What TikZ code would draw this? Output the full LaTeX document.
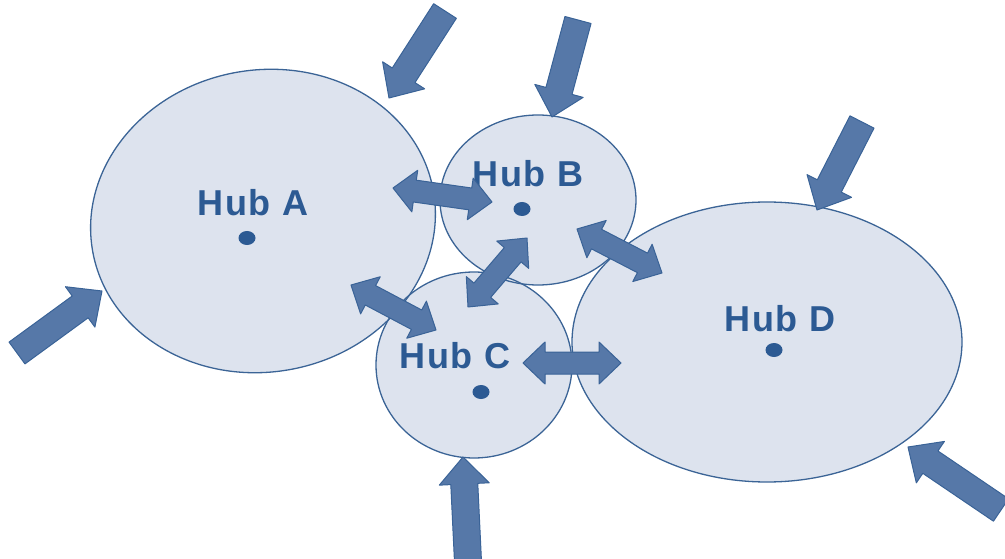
\documentclass[tikz,border=0pt]{standalone}
\usepackage{fontspec}
\setmainfont{Liberation Sans}
\newfontfamily\hubfont[LetterSpace=5]{Liberation Sans}
\usetikzlibrary{calc}
\definecolor{hubfill}{RGB}{221,227,238}
\definecolor{hubline}{RGB}{59,100,150}
\definecolor{arrfill}{RGB}{86,120,168}
\definecolor{arrline}{RGB}{58,99,151}
\definecolor{hubtext}{RGB}{44,90,147}
\tikzset{
  hubshape/.style={fill=hubfill},
  hubrim/.style={draw=hubline, line width=1.3pt},
  arr/.style={fill=arrfill, draw=arrline, line width=1pt, line join=round},
  hublabel/.style={text=hubtext, font=\hubfont\fontsize{36}{40}\selectfont\bfseries, anchor=base, inner sep=0pt}
}
\newcommand\blockarr[2]{%
  \coordinate (ba-b) at ($(#2)!27pt!(#1)$);
  \draw[arr] ($(#1)!13.5pt!90:(#2)$) -- ($(ba-b)!13.5pt!90:(#2)$) -- ($(ba-b)!25pt!90:(#2)$) -- (#2)
    -- ($(ba-b)!25pt!-90:(#2)$) -- ($(ba-b)!13.5pt!-90:(#2)$) -- ($(#1)!13.5pt!-90:(#2)$) -- cycle;}
\newcommand\dblarr[2]{%
  \coordinate (da-a) at ($(#1)!22pt!(#2)$);
  \coordinate (da-b) at ($(#2)!22pt!(#1)$);
  \draw[arr] (#1) -- ($(da-a)!21pt!90:(#2)$) -- ($(da-a)!11pt!90:(#2)$) -- ($(da-b)!11pt!-90:(#1)$)
    -- ($(da-b)!21pt!-90:(#1)$) -- (#2) -- ($(da-b)!21pt!90:(#1)$) -- ($(da-b)!11pt!90:(#1)$)
    -- ($(da-a)!11pt!-90:(#2)$) -- ($(da-a)!21pt!-90:(#2)$) -- cycle;}
\begin{document}
\begin{tikzpicture}[x=1pt,y=-1pt]
\useasboundingbox (0,0) rectangle (1005,559);
% hub centres
\coordinate (hubA) at (263,221);
\coordinate (hubB) at (538,200);
\coordinate (hubC) at (474,365);
\coordinate (hubD) at (767,342);
% fills
\path[hubshape] (hubA) ellipse [x radius=173pt, y radius=151pt, rotate=10];
\path[hubshape] (hubB) ellipse [x radius=98pt, y radius=85pt];
\path[hubshape] (hubC) ellipse [x radius=98pt, y radius=93pt];
\path[hubshape] (hubD) ellipse [x radius=195pt, y radius=140pt];
% outlines
\path[hubrim] (hubA) ellipse [x radius=173pt, y radius=151pt, rotate=10];
\path[hubrim] (hubB) ellipse [x radius=98pt, y radius=85pt];
\path[hubrim] (hubC) ellipse [x radius=98pt, y radius=93pt];
\path[hubrim] (hubD) ellipse [x radius=195pt, y radius=140pt];
% labels
\node[hublabel] (labA) at (253,216) {Hub A};
\node[hublabel] (labB) at (528,187) {Hub B};
\node[hublabel] (labC) at (455,368) {Hub C};
\node[hublabel] (labD) at (780,331) {Hub D};
% dots
\fill[hubtext] (247,238) ellipse [x radius=8.5pt, y radius=7pt];
\fill[hubtext] (522,209) ellipse [x radius=8.5pt, y radius=7pt];
\fill[hubtext] (481,392) ellipse [x radius=8.5pt, y radius=7pt];
\fill[hubtext] (774,350) ellipse [x radius=8.5pt, y radius=7pt];
% incoming arrows
\coordinate (in1t) at (445,11);   \coordinate (in1h) at (389,98);
\coordinate (in2t) at (578,20);   \coordinate (in2h) at (552,117);
\coordinate (in3t) at (862,122);  \coordinate (in3h) at (817,210);
\coordinate (in4t) at (17,353);   \coordinate (in4h) at (102,291);
\coordinate (in5t) at (468,562);  \coordinate (in5h) at (463,457);
\coordinate (in6t) at (1001,510); \coordinate (in6h) at (908,447);
\blockarr{in1t}{in1h}
\blockarr{in2t}{in2h}
\blockarr{in3t}{in3h}
\blockarr{in4t}{in4h}
\blockarr{in5t}{in5h}
\blockarr{in6t}{in6h}
% links between hubs
\coordinate (ab1) at (393,188); \coordinate (ab2) at (492,202);
\coordinate (ac1) at (351,285); \coordinate (ac2) at (436,330);
\coordinate (bc1) at (527,238); \coordinate (bc2) at (468,307);
\coordinate (bd1) at (577,229); \coordinate (bd2) at (662,273);
\coordinate (cd1) at (523,363); \coordinate (cd2) at (621,363);
\dblarr{ab1}{ab2}
\dblarr{ac1}{ac2}
\dblarr{bc1}{bc2}
\dblarr{bd1}{bd2}
\dblarr{cd1}{cd2}
\end{tikzpicture}
\end{document}
